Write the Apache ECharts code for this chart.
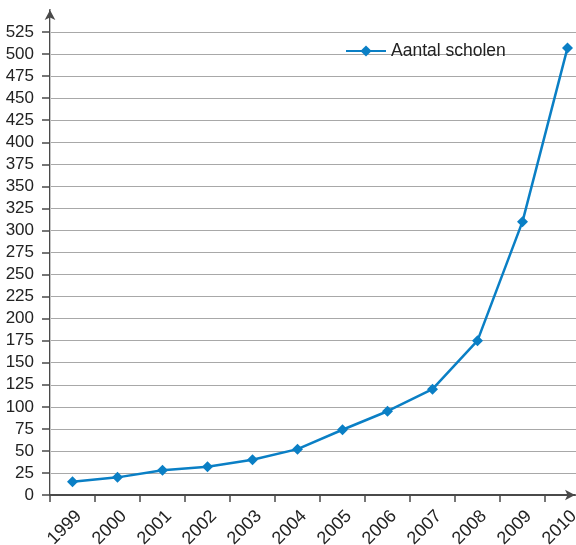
<!DOCTYPE html>
<html>
<head>
<meta charset="utf-8">
<script src="https://cdn.jsdelivr.net/npm/echarts@6/dist/echarts.min.js"></script>
<style>
  html, body { margin: 0; padding: 0; background: #ffffff; }
  #chart { width: 576px; height: 545px; }
</style>
</head>
<body>
<div id="chart"></div>
<script>
// Number of schools per year
const years = ['1999', '2000', '2001', '2002', '2003', '2004', '2005', '2006', '2007', '2008', '2009', '2010'];
const scholen = [15, 20, 28, 32, 40, 52, 74, 95, 120, 175, 310, 507];
const yTicks = [0, 25, 50, 75, 100, 125, 150, 175, 200, 225, 250, 275, 300, 325, 350, 375, 400, 425, 450, 475, 500, 525];
const seriesName = 'Aantal scholen';

const blue = '#0a7fc5';
const axisColor = '#4a4a4a';
const gridColor = '#a8a8a8';
const font = 'Liberation Sans, Arial, sans-serif';

const chart = echarts.init(document.getElementById('chart'), null, { renderer: 'canvas' });

chart.setOption({
  animation: false,
  backgroundColor: '#ffffff',
  legend: {
    data: [seriesName],
    left: 340,
    top: 37,
    itemWidth: 40,
    itemHeight: 14,
    itemGap: 4,
    textStyle: { fontFamily: font, fontSize: 17.5, color: '#222' }
  },
  grid: [
    // data area; the last band runs past the right edge
    { left: 50, right: -14, top: 10, bottom: 50, containLabel: false, outerBoundsMode: 'none' },
    // frame with the arrowed x axis and right border
    { left: 50, right: 1, top: 10, bottom: 50, containLabel: false, outerBoundsMode: 'none' }
  ],
  xAxis: [
    {
      type: 'category',
      gridIndex: 0,
      data: years,
      boundaryGap: true,
      axisLine: { show: false },
      axisTick: { show: true, inside: false, length: 7, lineStyle: { color: axisColor, width: 1.5 } },
      axisLabel: {
        rotate: 45,
        margin: 12,
        interval: 0,
        verticalAlign: 'top',
        fontFamily: font,
        fontSize: 18,
        color: '#222'
      },
      splitLine: { show: false }
    },
    {
      type: 'value',
      gridIndex: 1,
      min: 0,
      max: 1,
      axisLine: {
        show: true,
        symbol: ['none', 'arrow'],
        symbolSize: [8, 10],
        lineStyle: { color: axisColor, width: 2 }
      },
      axisTick: { show: false },
      axisLabel: { show: false },
      splitLine: { show: false }
    }
  ],
  yAxis: [
    {
      type: 'value',
      gridIndex: 0,
      min: 0,
      max: 550,
      interval: 25,
      axisLine: {
        show: true,
        symbol: ['none', 'arrow'],
        symbolSize: [8, 10],
        lineStyle: { color: axisColor, width: 2 }
      },
      axisTick: {
        show: true,
        length: 8,
        customValues: yTicks,
        lineStyle: { color: axisColor, width: 1.5 }
      },
      axisLabel: {
        margin: 16,
        customValues: yTicks,
        fontFamily: font,
        fontSize: 17,
        color: '#222'
      },
      splitLine: { show: true, lineStyle: { color: gridColor, width: 1.2 } }
    },
    {
      type: 'value',
      gridIndex: 1,
      position: 'right',
      min: 0,
      max: 1,
      axisLine: { show: true, lineStyle: { color: '#c4c4c4', width: 1 } },
      axisTick: { show: false },
      axisLabel: { show: false },
      splitLine: { show: false }
    }
  ],
  series: [
    {
      name: seriesName,
      type: 'line',
      xAxisIndex: 0,
      yAxisIndex: 0,
      data: scholen,
      symbol: 'diamond',
      symbolSize: 11,
      showAllSymbol: true,
      lineStyle: { color: blue, width: 2.5 },
      itemStyle: { color: blue },
      clip: false
    }
  ]
});
</script>
</body>
</html>
